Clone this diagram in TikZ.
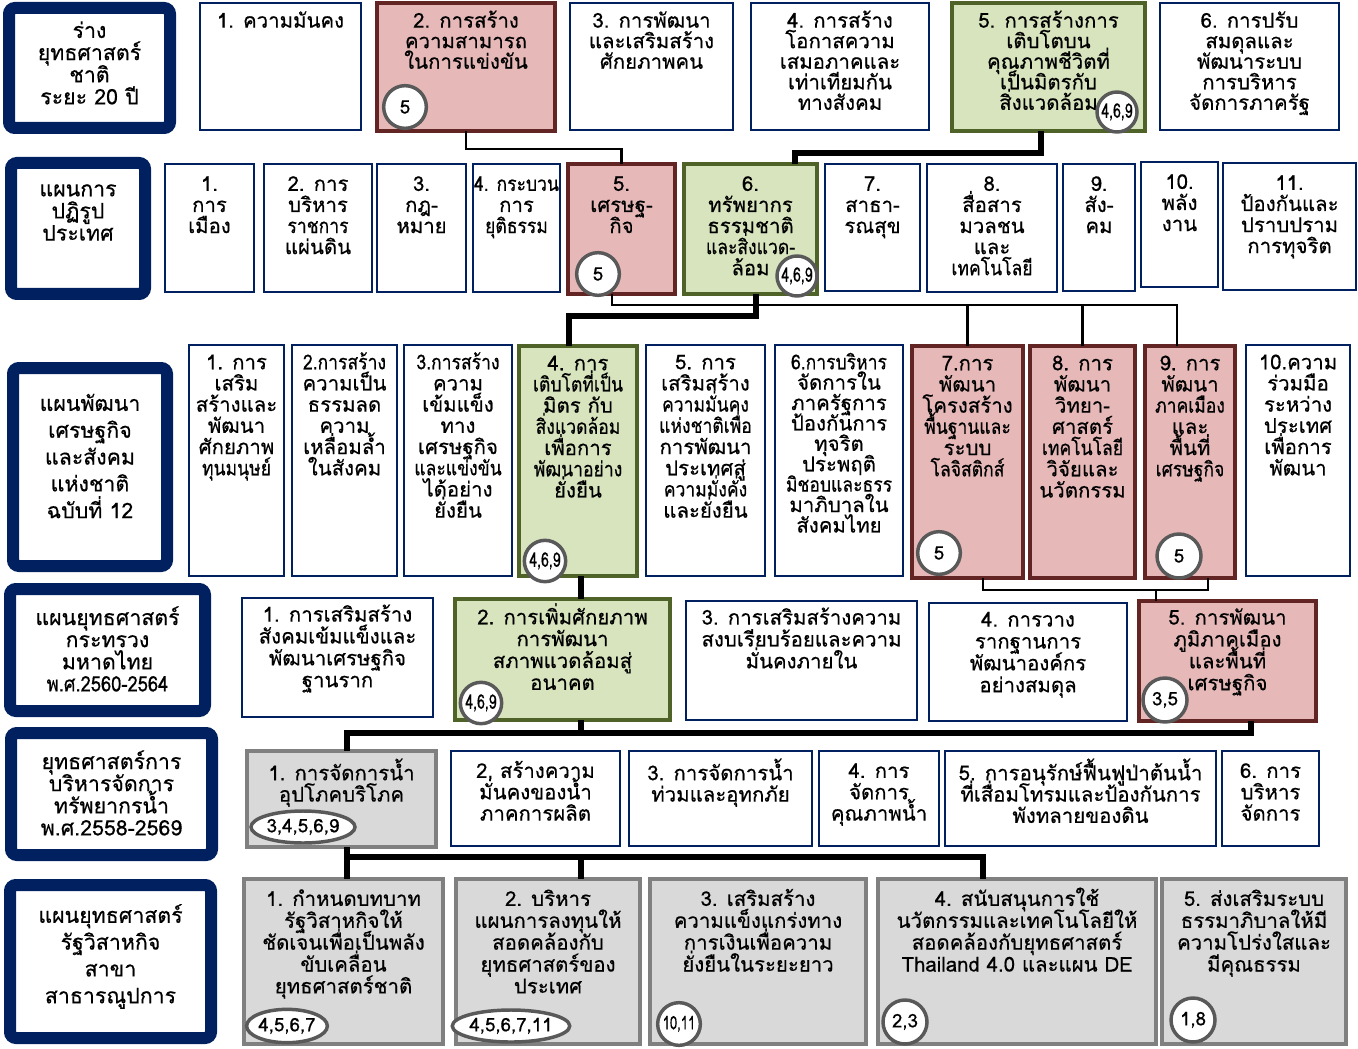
\documentclass[tikz,border=0pt]{standalone}
\usepackage{fontspec}
\newfontfamily\thai[Script=Thai, FakeBold=0.5]{Loma}
\newfontfamily\thaicond[Script=Thai, FakeBold=0.5, FakeStretch=0.86]{Loma}
\newfontfamily\thainarrow[Script=Thai, FakeBold=0.4, FakeStretch=0.7]{Loma}
\usetikzlibrary{shapes.geometric}
\definecolor{navy}{HTML}{002060}
\definecolor{pinkf}{HTML}{E6B9B8}
\definecolor{redb}{HTML}{632523}
\definecolor{greenf}{HTML}{D7E4BD}
\definecolor{greenb}{HTML}{4F6228}
\definecolor{greyf}{HTML}{D9D9D9}
\definecolor{greyb}{HTML}{808080}
\definecolor{circb}{HTML}{595959}
\newcommand{\cnd}[1]{{\thaicond #1}}
\def\bs{15.8pt}
\def\ty{-5.5pt}
\lineskiplimit=-100pt
\lineskip=0pt
\tikzset{
  box/.style={draw=navy, line width=1.8pt, fill=white, inner sep=0pt, outer sep=0pt},
  pinkbox/.style={draw=redb, line width=3.6pt, fill=pinkf, inner sep=0pt, outer sep=0pt},
  greenbox/.style={draw=greenb, line width=3.6pt, fill=greenf, inner sep=0pt, outer sep=0pt},
  greybox/.style={draw=greyb, line width=3.6pt, fill=greyf, inner sep=0pt, outer sep=0pt},
  labbox/.style={draw=navy, line width=9pt, rounded corners=4.5pt, fill=white, inner sep=0pt, outer sep=0pt},
  txt/.style={font=\thai\fontsize{15.3}{\bs}\selectfont, align=center, inner sep=0pt},
  labtxt/.style={font=\thai\fontsize{16}{16.6}\selectfont, align=center, inner sep=0pt},
  badge/.style={circle, draw=circb, line width=2.6pt, fill=white, inner sep=0pt, minimum size=32pt, font=\thai\fontsize{14}{14}\selectfont},
  smallbadge/.style={badge, minimum size=30pt, font=\thainarrow\fontsize{15}{15}\selectfont},
  oval/.style={ellipse, draw=circb, line width=2.6pt, fill=white, inner sep=0pt, font=\thai\fontsize{14}{14}\selectfont},
  thinln/.style={line width=1.6pt, black},
  thickln/.style={line width=3.8pt, black},
}
\newcommand{\bx}[7]{%
  \pgfmathsetmacro{\bw}{(#5-#3)*0.75}%
  \pgfmathsetmacro{\bh}{(#6-#4)*0.75}%
  \node[#2, minimum width=\bw pt, minimum height=\bh pt, anchor=north west] (#1) at (#3,#4) {};
  \node[txt, anchor=north] (#1-t) at ([yshift=\ty]#1.north) {\rule{0pt}{14.5pt}#7};
}
% name, x1, y1, x2, y2, text shift (pt, up positive), text
\newcommand{\lb}[7]{%
  \pgfmathsetmacro{\bw}{(#4-#2-12)*0.75}%
  \pgfmathsetmacro{\bh}{(#5-#3-12)*0.75}%
  \node[labbox, minimum width=\bw pt, minimum height=\bh pt, anchor=north west] (#1) at (#2+6,#3+6) {};
  \node[labtxt] (#1-t) at ([yshift=#6pt]#1.center) {#7};
}
\begin{document}
\lineskiplimit=-100pt
\lineskip=0pt
\begin{tikzpicture}[x=0.75pt,y=-0.75pt]
\useasboundingbox (0,0) rectangle (1358,1048);
% ---------- row 1
\def\bs{15.4pt}\def\ty{-3.8pt}
\lb{L1}{3}{2}{176}{134}{3.8}{ร่าง\\ยุทธศาสตร์\\ชาติ\\ระยะ 20 ปี}
\bx{B1}{box}{200}{3}{361}{130}{1. ความมันคง}
\bx{B2}{pinkbox}{377}{3}{555}{131}{2. การสร้าง\\ความสามารถ\\ในการแข่งขัน}
\bx{B3}{box}{570}{3}{733}{130}{3. การพัฒนา\\และเสริมสร้าง\\ศักยภาพคน}
\bx{B4}{box}{751}{3}{929}{130}{4. การสร้าง\\โอกาสความ\\เสมอภาคและ\\เท่าเทียมกัน\\ทางสังคม}
\bx{B5}{greenbox}{952}{3}{1145}{131}{5. การสร้างการ\\เติบโตบน\\คุณภาพชีวิตที่\\เป็นมิตรกับ\\สิ่งแวดล้อม}
\bx{B6}{box}{1160}{3}{1339}{130}{6. การปรับ\\สมดุลและ\\พัฒนาระบบ\\การบริหาร\\จัดการภาครัฐ}
% ---------- row 2
\def\bs{15.8pt}\def\ty{-5.5pt}
\lb{L2}{5}{157}{151}{300}{12}{แผนการ\\ปฏิรูป\\ประเทศ}
\bx{C1}{box}{165}{164}{254}{292}{1.\\การ\\เมือง}
\bx{C2}{box}{264}{164}{372}{292}{2. การ\\บริหาร\\\cnd{ราชการ}\\แผ่นดิน}
\bx{C3}{box}{377}{164}{466}{292}{3.\\กฎ-\\หมาย}
\bx{C4}{box}{473}{164}{560}{292}{\cnd{4. กระบวน}\\การ\\\cnd{ยุติธรรม}}
\bx{C5}{pinkbox}{568}{164}{675}{294}{5.\\เศรษฐ-\\กิจ}
\bx{C6}{greenbox}{684}{164}{817}{294}{6.\\ทรัพยากร\\ธรรมชาติ\\\cnd{และสิ่งแวด-}\\ล้อม}
\bx{C7}{box}{825}{164}{920}{291}{7.\\สาธา-\\รณสุข}
\bx{C8}{box}{927}{164}{1057}{292}{8.\\สื่อสาร\\มวลชน\\และ\\\cnd{เทคโนโลยี}}
\bx{C9}{box}{1063}{164}{1135}{291}{9.\\สัง-\\คม}
\bx{C10}{box}{1141}{162}{1218}{287}{10.\\พลัง\\งาน}
\bx{C11}{box}{1223}{163}{1356}{290}{11.\\ป้องกันและ\\ปราบปราม\\การทุจริต}
% ---------- row 3
\def\bs{15.9pt}\def\ty{-3.5pt}
\lb{L3}{7}{362}{173}{572}{8.2}{แผนพัฒนา\\[3.5pt]เศรษฐกิจ\\[3.5pt]และสังคม\\[3.5pt]แห่งชาติ\\[3.5pt]ฉบับที่ 12}
\bx{D1}{box}{189}{345}{284}{576}{1. การ\\เสริม\\สร้างและ\\พัฒนา\\ศักยภาพ\\\cnd{ทุนมนุษย์}}
\bx{D2}{box}{292}{345}{397}{576}{\cnd{2.การสร้าง}\\ความเป็น\\ธรรมลด\\ความ\\เหลื่อมล้ำ\\ในสังคม}
\bx{D3}{box}{404}{345}{512}{576}{\cnd{3.การสร้าง}\\ความ\\เข้มแข็ง\\ทาง\\เศรษฐกิจ\\\cnd{และแข่งขัน}\\ได้อย่าง\\ยั่งยืน}
\bx{D4}{greenbox}{519}{346}{637}{576}{4. การ\\\cnd{เติบโตที่เป็น}\\มิตร กับ\\\cnd{สิ่งแวดล้อม}\\เพื่อการ\\\cnd{พัฒนาอย่าง}\\ยั่งยืน}
\bx{D5}{box}{646}{345}{765}{576}{5. การ\\เสริมสร้าง\\\cnd{ความมั่นคง}\\\cnd{แห่งชาติเพื่อ}\\การพัฒนา\\ประเทศสู่\\\cnd{ความมั่งคั่ง}\\และยั่งยืน}
\def\bs{15.3pt}
\bx{D6}{box}{775}{345}{903}{576}{\cnd{6.การบริหาร}\\จัดการใน\\ภาครัฐการ\\ป้องกันการ\\ทุจริต\\ประพฤติ\\\cnd{มิชอบและธรร}\\มาภิบาลใน\\สังคมไทย}
\def\bs{15.9pt}
\bx{D7}{pinkbox}{912}{346}{1023}{578}{7.การ\\พัฒนา\\โครงสร้าง\\\cnd{พื้นฐานและ}\\ระบบ\\\cnd{โลจิสติกส์}}
\bx{D8}{pinkbox}{1030}{346}{1135}{578}{8. การ\\พัฒนา\\วิทยา-\\ศาสตร์\\\cnd{เทคโนโลยี}\\วิจัยและ\\นวัตกรรม}
\bx{D9}{pinkbox}{1145}{346}{1235}{578}{9. การ\\พัฒนา\\\cnd{ภาคเมือง}\\และ\\พื้นที่\\\cnd{เศรษฐกิจ}}
\bx{D10}{box}{1246}{345}{1350}{576}{10.ความ\\ร่วมมือ\\ระหว่าง\\ประเทศ\\เพื่อการ\\พัฒนา}
% ---------- row 4
\def\bs{16.4pt}\def\ty{-3pt}
\lb{L4}{4}{583}{211}{717}{0.8}{แผนยุทธศาสตร์\\กระทรวง\\มหาดไทย\\\cnd{พ.ศ.2560-2564}}
\bx{E1}{box}{242}{598}{433}{717}{1. การเสริมสร้าง\\สังคมเข้มแข็งและ\\พัฒนาเศรษฐกิจ\\ฐานราก}
\bx{E2}{greenbox}{455}{599}{670}{720}{2. การเพิ่มศักยภาพ\\การพัฒนา\\สภาพแวดล้อมสู่\\อนาคต}
\bx{E3}{box}{686}{601}{917}{720}{3. การเสริมสร้างความ\\สงบเรียบร้อยและความ\\มั่นคงภายใน}
\bx{E4}{box}{929}{603}{1127}{721}{4. การวาง\\รากฐานการ\\พัฒนาองค์กร\\อย่างสมดุล}
\bx{E5}{pinkbox}{1139}{601}{1316}{721}{5. การพัฒนา\\ภูมิภาคเมือง\\และพื้นที่\\เศรษฐกิจ}
% ---------- row 5
\def\bs{16pt}\def\ty{-5.5pt}
\lb{L5}{5}{727}{218}{861}{0.8}{ยุทธศาสตร์การ\\บริหารจัดการ\\ทรัพยากรน้ำ\\พ.ศ.2558-2569}
\bx{F1}{greybox}{247}{751}{436}{847}{1. การจัดการน้ำ\\อุปโภคบริโภค}
\bx{F2}{box}{451}{751}{620}{846}{2, สร้างความ\\มั่นคงของน้ำ\\ภาคการผลิต}
\bx{F3}{box}{629}{751}{812}{846}{3. การจัดการน้ำ\\ท่วมและอุทกภัย}
\bx{F4}{box}{819}{751}{939}{846}{4. การ\\จัดการ\\คุณภาพน้ำ}
\bx{F5}{box}{945}{751}{1216}{846}{5. การอนุรักษ์ฟื้นฟูป่าต้นน้ำ\\ที่เสื่อมโทรมและป้องกันการ\\พังทลายของดิน}
\bx{F6}{box}{1222}{751}{1319}{846}{6. การ\\บริหาร\\จัดการ}
% ---------- row 6
\def\bs{16.4pt}\def\ty{-5.5pt}
\lb{L6}{4}{879}{217}{1044}{3.8}{แผนยุทธศาสตร์\\[3.5pt]รัฐวิสาหกิจ\\[3.5pt]สาขา\\[3.5pt]สาธารณูปการ}
\bx{G1}{greybox}{244}{879}{443}{1044}{1. กำหนดบทบาท\\รัฐวิสาหกิจให้\\ชัดเจนเพื่อเป็นพลัง\\ขับเคลื่อน\\ยุทธศาสตร์ชาติ}
\bx{G2}{greybox}{456}{879}{640}{1044}{2. บริหาร\\แผนการลงทุนให้\\สอดคล้องกับ\\ยุทธศาสตร์ของ\\ประเทศ}
\bx{G3}{greybox}{650}{879}{866}{1044}{3. เสริมสร้าง\\ความแข็งแกร่งทาง\\การเงินเพื่อความ\\ยั่งยืนในระยะยาว}
\bx{G4}{greybox}{878}{879}{1156}{1044}{4. สนับสนุนการใช้\\นวัตกรรมและเทคโนโลยีให้\\สอดคล้องกับยุทธศาสตร์\\Thailand 4.0 และแผน DE}
\bx{G5}{greybox}{1162}{879}{1346}{1044}{5. ส่งเสริมระบบ\\ธรรมาภิบาลให้มี\\ความโปร่งใสและ\\มีคุณธรรม}
% ---------- connectors
\draw[thinln] (B2.south) -- (B2.south |- 0,149) -| (C5.north);
\draw[thickln] (B5.south -| 1041,0) -- (1041,153) -| (C6.north -| 795,0);
\draw[thinln] (C5.south -| 612,0) -- (612,305) -| (D9.north -| 1177,0);
\draw[thinln] (D7.north |- 0,305) -- (D7.north);
\draw[thinln] (D8.north |- 0,305) -- (D8.north);
\draw[thickln] (C6.south -| 756,0) -- (756,316) -| (D4.north -| 569,0);
\draw[thickln] (D4.south -| 581,0) -- (E2.north -| 581,0);
\draw[thinln] (D7.south -| 983,0) -- (983,590) -| (D9.south -| 1208,0);
\draw[thinln] (E5.north -| 1156,0) -- (1156,590);
\draw[thickln] (E2.south -| 581,0) -- (581,733);
\draw[thickln] (E5.south -| 1251,0) -- (1251,733) -| (F1.north -| 347,0);
\draw[thickln] (F1.south -| 347,0) -- (G1.north -| 347,0);
\draw[thickln] (347,857) -| (G4.north -| 983,0);
\draw[thickln] (581,857) -- (G2.north -| 581,0);
% ---------- badges
\node[badge] (B2-c) at (405,107) {5};
\node[smallbadge] (B5-c) at (1117,112) {4,6,9};
\node[badge] (C5-c) at (598,274) {5};
\node[smallbadge] (C6-c) at (797,276) {4,6,9};
\node[smallbadge, minimum size=31pt] (D4-c) at (545,561) {4,6,9};
\node[badge] (D7-c) at (939,553) {5};
\node[badge, minimum size=33pt] (D9-c) at (1179,556) {5};
\node[smallbadge, minimum size=31pt] (E2-c) at (481,703) {4,6,9};
\node[badge, minimum size=33pt] (E5-c) at (1165,700) {3,5};
\node[oval, minimum width=78pt, minimum height=24pt] (F1-c) at (303,827) {3,4,5,6,9};
\node[oval, minimum width=53pt, minimum height=25pt] (G1-c) at (287,1026) {4,5,6,7};
\node[oval, minimum width=80pt, minimum height=24pt] (G2-c) at (511,1026) {4,5,6,7,11};
\node[badge, font=\thainarrow\fontsize{14}{14}\selectfont] (G3-c) at (679,1024) {10,11};
\node[badge, minimum size=33pt] (G4-c) at (905,1022) {2,3};
\node[badge, minimum size=33pt] (G5-c) at (1193,1020) {1,8};
\end{tikzpicture}
\end{document}
